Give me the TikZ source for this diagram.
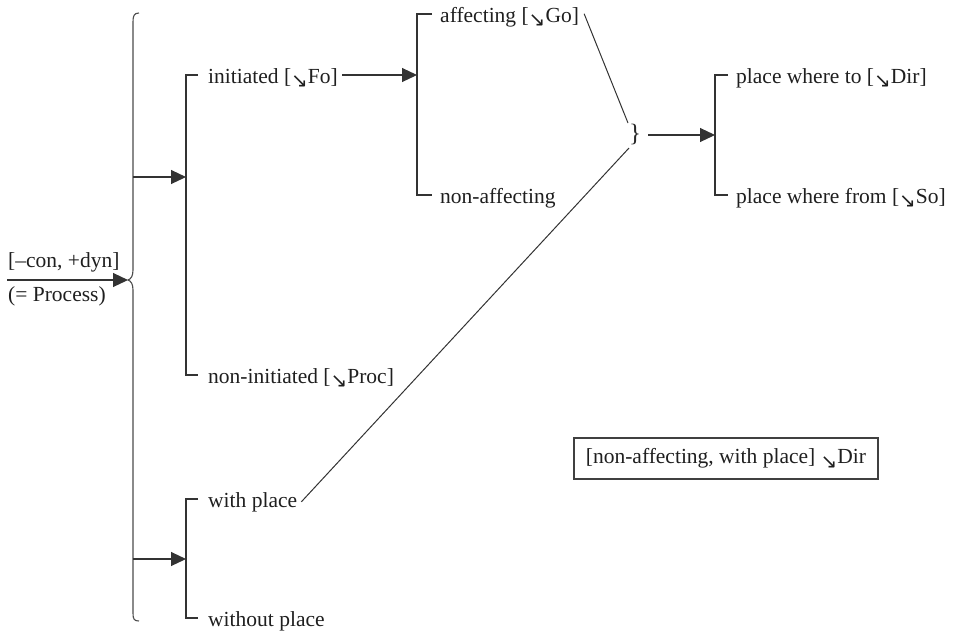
\documentclass[tikz,border=0pt]{standalone}
\usepackage{fontspec}
\setmainfont{Liberation Serif}
\newfontfamily\symfont{DejaVu Sans}
\usetikzlibrary{arrows.meta}
\newcommand{\sarr}{\raisebox{-0.45ex}{\symfont\fontsize{20}{20}\selectfont ↘}}
\tikzset{
  lbl/.style={anchor=base west, inner sep=0pt, text=black!88,
    font=\fontsize{21.5}{26}\selectfont},
  ln/.style={draw=black!80, line width=1.1pt},
  arr/.style={ln, -{Triangle[length=15pt,width=14pt]}},
  brk/.style={ln, line cap=butt},
}
\begin{document}
\begin{tikzpicture}[x=1pt,y=-1pt]
\useasboundingbox (0,0) rectangle (956,633);

% entry condition
\node[lbl] (con) at (8,267) {[\textendash con, +dyn]};
\node[lbl] (proc) at (8,301) {(= Process)};
\coordinate (in0) at (7,280);
\coordinate (bt) at (128,280);
\draw[arr] (in0) -- (bt);

% large simultaneous brace
\draw[ln, draw=black!70] (139,13) .. controls (134,13) and (133,16) .. (133,22)
  -- (133,270) .. controls (133,276) and (131,279) .. (128,280)
  .. controls (131,281) and (133,284) .. (133,290)
  -- (133,613) .. controls (133,619) and (134,621) .. (139,621);
\coordinate (s1) at (133,177);
\coordinate (s2) at (133,559);

% system 1: initiation
\coordinate (b1t) at (186,75);
\coordinate (b1m) at (186,177);
\coordinate (b1b) at (186,375);
\draw[arr] (s1) -- (b1m);
\draw[brk] (198,75) -- (b1t) -- (b1b) -- (198,375);
\node[lbl] (init) at (208,83) {initiated [\sarr Fo]};
\node[lbl] (ninit) at (208,383) {non-initiated [\sarr Proc]};

% system 2: affectedness
\coordinate (b2t) at (417,14);
\coordinate (b2m) at (417,75);
\coordinate (b2b) at (417,195);
\draw[arr] ([xshift=4pt]init.east |- b2m) -- (b2m);
\draw[brk] (432,14) -- (b2t) -- (b2b) -- (432,195);
\node[lbl] (aff) at (440,22) {affecting [\sarr Go]};
\node[lbl] (naff) at (440,203) {non-affecting};

% system 3: place
\coordinate (b4t) at (186,499);
\coordinate (b4m) at (186,559);
\coordinate (b4b) at (186,618);
\draw[arr] (s2) -- (b4m);
\draw[brk] (198,499) -- (b4t) -- (b4b) -- (198,618);
\node[lbl] (wp) at (208,507) {with place};
\node[lbl] (wop) at (208,626) {without place};

% conjunction of affecting and with place
\node[inner sep=0pt, text=black!85, font=\fontsize{25}{25}\selectfont] (cj) at (635,134) {\}};
\coordinate (cjt) at (628,123);
\coordinate (cjb) at (629,148);
\draw[ln, line width=1pt] ([xshift=5pt,yshift=3pt]aff.east) -- (cjt);
\draw[ln, line width=1pt] (cjb) -- ([xshift=4pt]wp.east);

% system 4: direction
\coordinate (b3t) at (715,75);
\coordinate (b3m) at (715,135);
\coordinate (b3b) at (715,195);
\draw[arr] (648,135) -- (b3m);
\draw[brk] (728,75) -- (b3t) -- (b3b) -- (728,195);
\node[lbl] (to) at (736,83) {place where to [\sarr Dir]};
\node[lbl] (from) at (736,203) {place where from [\sarr So]};

% realization note
\node[draw=black!75, line width=1.1pt, minimum width=304pt, minimum height=41pt,
  inner sep=0pt, text=black!88, font=\fontsize{21.5}{26}\selectfont]
  (note) at (726,458.5) {[non-affecting, with place] \sarr Dir};
\end{tikzpicture}
\end{document}
